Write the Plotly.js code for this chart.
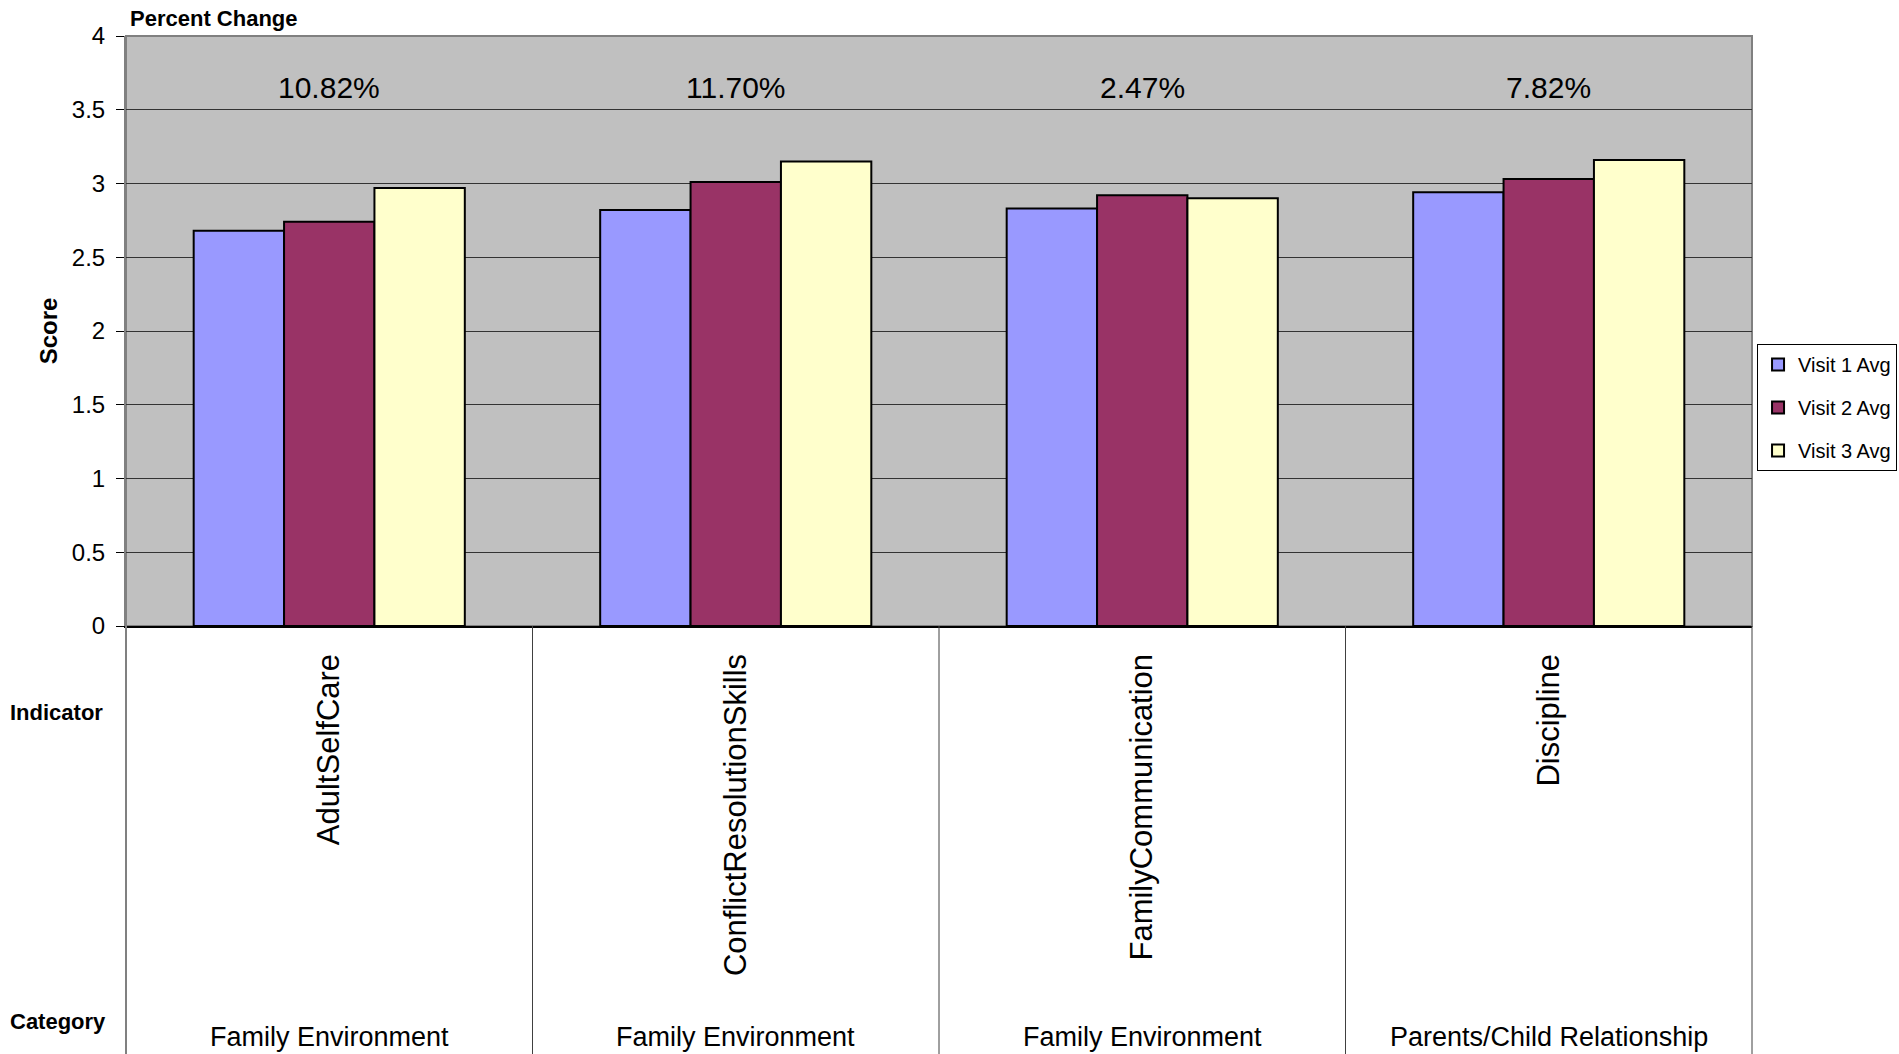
<!DOCTYPE html>
<html><head><meta charset="utf-8">
<script src="https://cdn.plot.ly/plotly-3.0.1.min.js"></script>
<style>html,body{margin:0;padding:0;background:#fff}#chart{width:1899px;height:1054px}</style>
</head><body><div id="chart"></div>
<script>
const indicators = ['AdultSelfCare', 'ConflictResolutionSkills', 'FamilyCommunication', 'Discipline'];
const categories = ['Family Environment', 'Family Environment', 'Family Environment', 'Parents/Child Relationship'];
const visit1 = [2.68, 2.82, 2.83, 2.94];
const visit2 = [2.74, 3.01, 2.92, 3.03];
const visit3 = [2.97, 3.15, 2.90, 3.16];
const pctChange = ['10.82%', '11.70%', '2.47%', '7.82%'];
const seriesNames = ['Visit 1 Avg', 'Visit 2 Avg', 'Visit 3 Avg'];
const seriesColors = ['#9999FF', '#993366', '#FFFFCC'];
const yTicks = [0, 0.5, 1, 1.5, 2, 2.5, 3, 3.5, 4];
const pctLabelY = 3.65;

const FONT = 'Arial, "Liberation Sans", sans-serif';
const series = [visit1, visit2, visit3];

const traces = series.map((vals, i) => ({
  type: 'bar',
  name: seriesNames[i],
  x: indicators,
  y: vals,
  legendgroup: 'g' + i,
  marker: {color: seriesColors[i], line: {color: '#000', width: 2}},
  hoverinfo: 'x+y+name'
}));

const annotations = [];
indicators.forEach((ind, i) => {
  annotations.push({
    x: ind, xref: 'x', y: pctLabelY, yref: 'y',
    text: pctChange[i], showarrow: false,
    font: {family: FONT, size: 30, color: '#000'},
    xanchor: 'center', yanchor: 'middle'
  });
  annotations.push({
    x: ind, xref: 'x', y: -0.6966, yref: 'paper',
    text: categories[i], showarrow: false,
    font: {family: FONT, size: 27, color: '#000'},
    xanchor: 'center', yanchor: 'middle'
  });
});
annotations.push({
  x: 0.001, xref: 'paper', y: 1.0305, yref: 'paper', text: '<b>Percent Change</b>',
  showarrow: false, xanchor: 'left', yanchor: 'middle',
  font: {family: FONT, size: 22, color: '#000'}
});
annotations.push({
  x: -0.0129, xref: 'paper', y: -0.1458, yref: 'paper', text: '<b>Indicator</b>',
  showarrow: false, xanchor: 'right', yanchor: 'middle',
  font: {family: FONT, size: 22, color: '#000'}
});
annotations.push({
  x: -0.011, xref: 'paper', y: -0.671, yref: 'paper', text: '<b>Category</b>',
  showarrow: false, xanchor: 'right', yanchor: 'middle',
  font: {family: FONT, size: 22, color: '#000'}
});

const shapes = [];
// plot area border
shapes.push({type: 'rect', xref: 'paper', yref: 'paper', x0: 0, x1: 1, y0: 0, y1: 1,
  line: {color: '#808080', width: 2}, fillcolor: 'rgba(0,0,0,0)', layer: 'below'});
// category dividers below the plot
for (let i = 1; i < indicators.length; i++) {
  shapes.push({type: 'line', xref: 'x', yref: 'paper', x0: i - 0.5, x1: i - 0.5, y0: 0, y1: -0.73,
    line: {color: '#404040', width: 1}});
}
shapes.push({type: 'line', xref: 'paper', yref: 'paper', x0: 0, x1: 0, y0: 0, y1: -0.73,
  line: {color: '#808080', width: 2}});
shapes.push({type: 'line', xref: 'paper', yref: 'paper', x0: 1, x1: 1, y0: 0, y1: -0.73,
  line: {color: '#404040', width: 1}});

const layout = {
  width: 1899, height: 1054,
  margin: {l: 126, r: 147, t: 36, b: 428, autoexpand: false},
  paper_bgcolor: '#ffffff',
  plot_bgcolor: '#C0C0C0',
  font: {family: FONT, color: '#000'},
  barmode: 'group',
  bargap: 0.333,
  bargroupgap: 0,
  showlegend: true,
  legend: {
    x: 1.0031, xanchor: 'left', y: 0.478, yanchor: 'top',
    bgcolor: '#fff', bordercolor: '#000', borderwidth: 1,
    font: {family: FONT, size: 20, color: '#000'},
    traceorder: 'grouped', tracegroupgap: 14, itemwidth: 30
  },
  xaxis: {
    type: 'category',
    tickangle: -90,
    tickfont: {family: FONT, size: 31, color: '#000'},
    ticks: '',
    ticklabelstandoff: 14,
    showgrid: false,
    showline: true, linecolor: '#000', linewidth: 1.5,
    zeroline: false,
    fixedrange: true
  },
  yaxis: {
    range: [0, 4],
    tickvals: yTicks,
    ticktext: yTicks.map(String),
    tickfont: {family: FONT, size: 24, color: '#000'},
    ticks: 'outside', ticklen: 8, tickcolor: '#000', tickwidth: 1,
    ticklabelstandoff: 6,
    showgrid: true, gridcolor: '#333', gridwidth: 1,
    showline: true, linecolor: '#808080', linewidth: 2,
    zeroline: false,
    title: {text: '<b>Score</b>', font: {family: FONT, size: 24, color: '#000'}, standoff: 7},
    fixedrange: true
  },
  annotations: annotations,
  shapes: shapes
};

Plotly.newPlot('chart', traces, layout, {displayModeBar: false, staticPlot: true});
</script></body></html>
